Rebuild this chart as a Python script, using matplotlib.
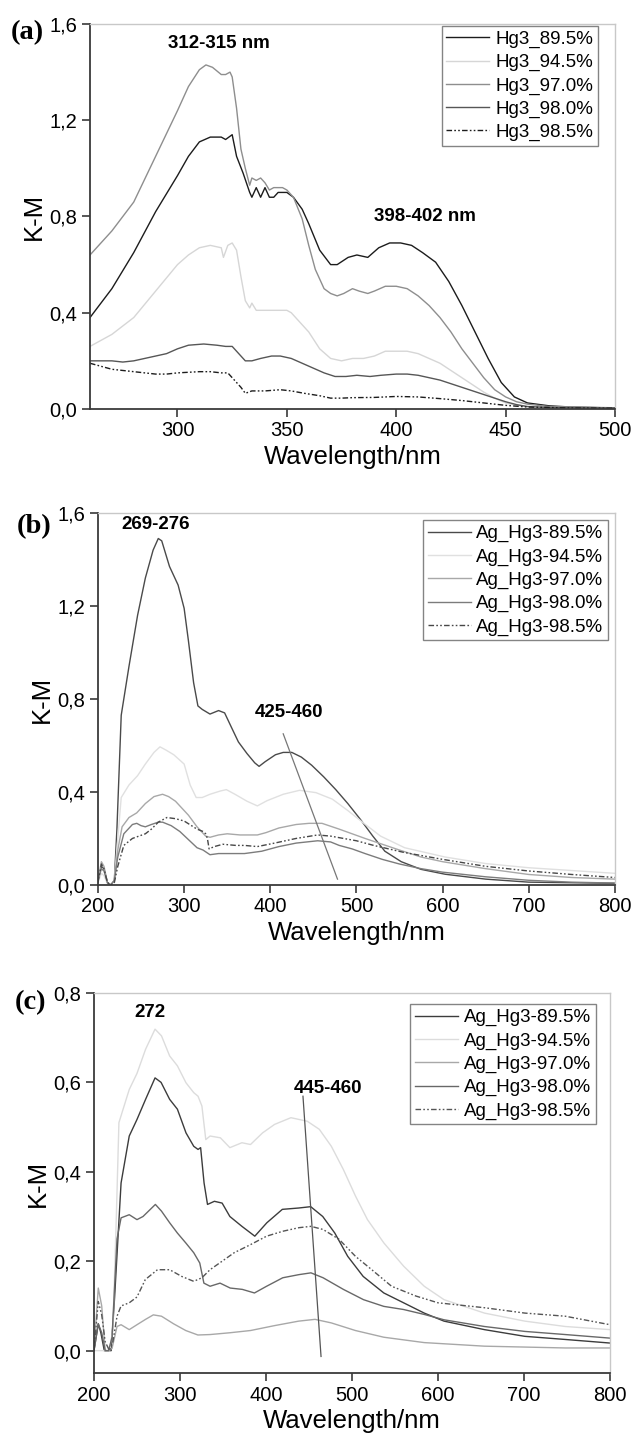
import matplotlib
matplotlib.use("Agg")
import matplotlib.pyplot as plt

plt.rcParams['font.family'] = ['Liberation Sans', 'DejaVu Sans']

# ---------------- panel (a) ----------------
a_labels = ['Hg3_89.5%', 'Hg3_94.5%', 'Hg3_97.0%', 'Hg3_98.0%', 'Hg3_98.5%']

a895_x = [260, 270, 280, 290, 300, 305, 310, 315, 320, 322, 325, 327, 330, 333, 334, 336, 338, 340, 342, 344,
          346, 350, 353, 357, 360, 365, 370, 373, 378, 382, 387, 392, 397, 402, 407, 412, 418, 424, 430, 436,
          442, 448, 454, 460, 470, 480, 500]
a895_y = [0.38, 0.50, 0.65, 0.82, 0.97, 1.05, 1.11, 1.13, 1.13, 1.12, 1.14, 1.05, 0.98, 0.90, 0.88, 0.92, 0.88,
          0.92, 0.88, 0.88, 0.90, 0.90, 0.88, 0.83, 0.77, 0.66, 0.60, 0.60, 0.63, 0.64, 0.63, 0.67, 0.69, 0.69,
          0.68, 0.65, 0.61, 0.53, 0.43, 0.32, 0.21, 0.11, 0.05, 0.025, 0.013, 0.008, 0.004]

a945_x = [260, 270, 280, 290, 300, 305, 310, 315, 320, 321, 323, 325, 327, 329, 331, 333, 334, 336, 340, 345,
          350, 352, 355, 360, 365, 370, 375, 380, 385, 390, 395, 400, 405, 410, 415, 420, 425, 430, 435, 440,
          445, 450, 455, 460, 480, 500]
a945_y = [0.26, 0.31, 0.38, 0.49, 0.60, 0.64, 0.67, 0.68, 0.67, 0.63, 0.68, 0.69, 0.66, 0.55, 0.45, 0.42, 0.44,
          0.41, 0.41, 0.41, 0.41, 0.40, 0.37, 0.32, 0.25, 0.21, 0.20, 0.21, 0.21, 0.22, 0.24, 0.24, 0.24, 0.23,
          0.21, 0.19, 0.16, 0.13, 0.10, 0.07, 0.045, 0.025, 0.015, 0.01, 0.006, 0.004]

a970_x = [260, 270, 280, 290, 300, 305, 310, 313, 316, 320, 322, 324, 325, 327, 329, 331, 333, 334, 336, 338,
          340, 342, 344, 348, 350, 353, 357, 360, 363, 367, 370, 373, 376, 380, 383, 387, 390, 395, 400, 405,
          410, 415, 420, 425, 430, 435, 440, 445, 450, 455, 460, 470, 500]
a970_y = [0.64, 0.74, 0.86, 1.05, 1.24, 1.34, 1.41, 1.43, 1.42, 1.39, 1.39, 1.40, 1.38, 1.25, 1.08, 1.00, 0.93,
          0.96, 0.95, 0.96, 0.94, 0.91, 0.92, 0.92, 0.91, 0.88, 0.79, 0.68, 0.58, 0.50, 0.48, 0.47, 0.48, 0.50,
          0.49, 0.48, 0.49, 0.51, 0.51, 0.50, 0.47, 0.43, 0.38, 0.32, 0.25, 0.19, 0.13, 0.08, 0.05, 0.03, 0.02,
          0.01, 0.005]

a980_x = [260, 270, 275, 280, 290, 295, 300, 305, 312, 318, 322, 325, 328, 331, 334, 338, 343, 347, 352, 357,
          362, 367, 372, 377, 382, 388, 393, 400, 405, 410, 415, 420, 425, 430, 435, 440, 445, 450, 455, 460,
          470, 500]
a980_y = [0.20, 0.20, 0.195, 0.20, 0.22, 0.23, 0.25, 0.265, 0.27, 0.265, 0.26, 0.26, 0.23, 0.20, 0.20, 0.21,
          0.22, 0.22, 0.21, 0.19, 0.17, 0.15, 0.135, 0.135, 0.14, 0.135, 0.14, 0.145, 0.145, 0.14, 0.13, 0.12,
          0.105, 0.09, 0.075, 0.06, 0.045, 0.03, 0.018, 0.01, 0.006, 0.004]

a985_x = [260, 270, 280, 290, 295, 300, 310, 315, 320, 323, 326, 329, 331, 334, 340, 347, 352, 358, 365, 370,
          375, 380, 390, 400, 410, 420, 430, 440, 450, 460, 480, 500]
a985_y = [0.19, 0.165, 0.155, 0.145, 0.145, 0.15, 0.155, 0.155, 0.15, 0.15, 0.12, 0.09, 0.065, 0.075, 0.075,
          0.08, 0.075, 0.065, 0.055, 0.045, 0.045, 0.047, 0.048, 0.052, 0.05, 0.043, 0.035, 0.025, 0.015, 0.008,
          0.004, 0.003]

# ---------------- panel (b) ----------------
b_labels = ['Ag_Hg3-89.5%', 'Ag_Hg3-94.5%', 'Ag_Hg3-97.0%', 'Ag_Hg3-98.0%', 'Ag_Hg3-98.5%']

b895_x = [200, 204, 207, 211, 215, 219, 222, 227, 236, 246, 255, 264, 270, 274, 283, 293, 300, 305, 311, 316,
          321, 330, 340, 347, 354, 363, 373, 382, 387, 394, 406, 415, 425, 436, 448, 462, 476, 490, 505, 519,
          533, 552, 575, 603, 650, 700, 800]
b895_y = [0.02, 0.08, 0.07, 0.01, 0.0, 0.02, 0.24, 0.73, 0.94, 1.16, 1.32, 1.44, 1.49, 1.48, 1.37, 1.29, 1.19,
          1.05, 0.87, 0.77, 0.755, 0.735, 0.75, 0.74, 0.685, 0.615, 0.565, 0.525, 0.51, 0.53, 0.56, 0.57, 0.57,
          0.55, 0.515, 0.465, 0.41, 0.35, 0.28, 0.21, 0.145, 0.10, 0.067, 0.046, 0.025, 0.012, 0.007]

b945_x = [200, 204, 207, 211, 215, 219, 223, 227, 236, 246, 255, 265, 272, 279, 288, 300, 307, 314, 321, 330,
          342, 349, 359, 373, 385, 396, 415, 434, 453, 472, 490, 509, 528, 556, 603, 650, 700, 750, 800]
b945_y = [0.01, 0.05, 0.04, 0.005, 0.0, 0.02, 0.2, 0.376, 0.43, 0.47, 0.52, 0.57, 0.594, 0.58, 0.56, 0.52,
          0.43, 0.376, 0.376, 0.39, 0.404, 0.41, 0.39, 0.36, 0.34, 0.362, 0.39, 0.407, 0.397, 0.369, 0.32, 0.264,
          0.21, 0.16, 0.12, 0.092, 0.074, 0.062, 0.05]

b970_x = [200, 204, 207, 211, 215, 219, 223, 228, 236, 245, 255, 265, 275, 282, 290, 300, 305, 315, 325, 330,
          340, 350, 365, 385, 395, 410, 430, 445, 460, 480, 495, 510, 530, 550, 575, 600, 650, 700, 750, 800]
b970_y = [0.02, 0.1, 0.08, 0.01, 0.0, 0.02, 0.15, 0.25, 0.29, 0.31, 0.35, 0.38, 0.39, 0.38, 0.36, 0.32, 0.30,
          0.25, 0.21, 0.205, 0.215, 0.22, 0.215, 0.215, 0.225, 0.245, 0.26, 0.265, 0.265, 0.24, 0.22, 0.2, 0.175,
          0.15, 0.12, 0.1, 0.07, 0.045, 0.032, 0.025]

b980_x = [200, 204, 207, 211, 215, 219, 223, 230, 240, 245, 250, 255, 262, 270, 275, 285, 295, 305, 315, 322,
          330, 340, 350, 370, 390, 410, 430, 455, 470, 480, 495, 510, 530, 550, 575, 600, 650, 700, 750, 800]
b980_y = [0.02, 0.07, 0.06, 0.01, 0.0, 0.02, 0.12, 0.22, 0.26, 0.265, 0.255, 0.25, 0.26, 0.27, 0.27, 0.255,
          0.23, 0.195, 0.16, 0.15, 0.13, 0.135, 0.135, 0.135, 0.145, 0.165, 0.18, 0.19, 0.185, 0.17, 0.155,
          0.135, 0.11, 0.09, 0.07, 0.055, 0.035, 0.02, 0.012, 0.008]

b985_x = [200, 204, 207, 211, 215, 219, 223, 230, 240, 255, 262, 270, 280, 290, 300, 315, 322, 325, 327, 329,
          335, 345, 360, 370, 385, 405, 430, 455, 470, 485, 500, 520, 555, 600, 650, 700, 750, 800]
b985_y = [0.01, 0.09, 0.07, 0.01, 0.0, 0.01, 0.08, 0.17, 0.20, 0.22, 0.24, 0.27, 0.29, 0.285, 0.275, 0.24,
          0.23, 0.22, 0.2, 0.155, 0.165, 0.175, 0.17, 0.17, 0.165, 0.18, 0.20, 0.215, 0.21, 0.2, 0.19, 0.17,
          0.14, 0.11, 0.08, 0.06, 0.045, 0.032]

# ---------------- panel (c) ----------------
c_labels = b_labels

c895_x = [200, 205, 208, 212, 216, 220, 224, 231.5, 241, 250, 260, 271, 278, 288, 297, 307, 316, 321, 324, 328,
          332, 340, 349, 358, 372, 387, 401, 419, 438, 452, 466, 480, 495, 513, 537, 560, 584, 607, 654, 701,
          748, 800]
c895_y = [0.0, 0.06, 0.04, 0.0, 0.0, 0.0, 0.12, 0.375, 0.48, 0.517, 0.562, 0.61, 0.60, 0.562, 0.54, 0.487,
          0.457, 0.45, 0.454, 0.375, 0.327, 0.334, 0.33, 0.30, 0.278, 0.256, 0.286, 0.316, 0.319, 0.322, 0.30,
          0.263, 0.211, 0.166, 0.129, 0.107, 0.084, 0.066, 0.047, 0.032, 0.025, 0.017]

c945_x = [200, 210, 218, 222, 226, 229, 241, 250, 260, 271, 278.5, 288, 297, 307, 316, 321, 325.5, 330, 335,
          347, 358, 372, 382, 396, 410, 429, 448, 462, 476, 490, 504, 518, 537, 560, 584, 607, 654, 701, 748, 800]
c945_y = [0.0, 0.0, 0.0, 0.05, 0.3, 0.51, 0.584, 0.62, 0.674, 0.719, 0.704, 0.659, 0.637, 0.599, 0.577, 0.569,
          0.547, 0.472, 0.48, 0.476, 0.454, 0.465, 0.461, 0.487, 0.506, 0.521, 0.513, 0.495, 0.457, 0.405, 0.346,
          0.293, 0.241, 0.189, 0.144, 0.114, 0.084, 0.066, 0.054, 0.047]

c970_x = [200, 205, 209, 213, 217, 221, 226.8, 231.5, 241, 250, 260, 269, 278.5, 292.6, 306.7, 320.8, 335, 358,
          382, 410, 438, 457, 476, 504, 537, 584, 654, 748, 800]
c970_y = [0.0, 0.14, 0.1, 0.0, 0.0, 0.005, 0.054, 0.058, 0.047, 0.058, 0.07, 0.08, 0.077, 0.06, 0.045, 0.035,
          0.036, 0.04, 0.045, 0.056, 0.066, 0.07, 0.062, 0.045, 0.03, 0.018, 0.01, 0.006, 0.006]

c980_x = [200, 205, 209, 213, 217, 221, 226.8, 231.5, 241, 250, 257, 271.4, 278.5, 288, 297, 306.7, 316, 323,
          327.8, 335, 346.6, 358.4, 372.5, 386.6, 400.7, 419.5, 438.3, 452.3, 466.4, 490, 513.4, 537, 560, 584,
          607, 654, 701, 748, 800]
c980_y = [0.0, 0.06, 0.04, 0.0, 0.0, 0.03, 0.25, 0.297, 0.304, 0.293, 0.30, 0.327, 0.312, 0.286, 0.263, 0.241,
          0.219, 0.196, 0.151, 0.144, 0.151, 0.14, 0.137, 0.129, 0.144, 0.163, 0.17, 0.174, 0.163, 0.137, 0.114,
          0.099, 0.092, 0.081, 0.069, 0.054, 0.043, 0.036, 0.028]

c985_x = [200, 205, 209, 213, 218, 222, 226.8, 231.5, 241, 250, 259.7, 273.8, 288, 302, 316, 325.5, 334.9, 349,
          363, 381.9, 400.7, 419.5, 438.3, 452.3, 466.4, 485, 504, 523, 546, 574.5, 600, 654, 701, 748, 800]
c985_y = [0.0, 0.11, 0.08, 0.02, 0.0, 0.02, 0.077, 0.10, 0.107, 0.12, 0.159, 0.181, 0.181, 0.166, 0.155, 0.163,
          0.181, 0.20, 0.219, 0.237, 0.256, 0.267, 0.275, 0.278, 0.271, 0.249, 0.211, 0.181, 0.144, 0.122, 0.107,
          0.096, 0.084, 0.077, 0.058]

a_yticks = [0.0, 0.4, 0.8, 1.2, 1.6]
b_yticks = [0.0, 0.4, 0.8, 1.2, 1.6]
c_yticks = [0.0, 0.2, 0.4, 0.6, 0.8]
a_xticks = [300, 350, 400, 450, 500]
bc_xticks = [200, 300, 400, 500, 600, 700, 800]

dashdot = (0, (4, 1.6, 1.2, 1.6, 1.2, 1.6))


def style_axes(ax, xlim, ylim, xticks, yticks):
    ax.set_xlim(*xlim)
    ax.set_ylim(*ylim)
    ax.set_xticks(xticks)
    ax.set_xticklabels([str(t) for t in xticks])
    ax.set_yticks(yticks)
    ax.set_yticklabels([('%.1f' % t).replace('.', ',') for t in yticks])
    for s in ['top', 'right']:
        ax.spines[s].set_color('#c8c8c8')
        ax.spines[s].set_linewidth(1.0)
    for s in ['left', 'bottom']:
        ax.spines[s].set_color('#3a3a3a')
        ax.spines[s].set_linewidth(1.3)
    ax.tick_params(direction='out', length=6, width=1.2, color='#3a3a3a',
                   labelsize=14.5, top=False, right=False, pad=3)
    ax.set_xlabel('Wavelength/nm', fontsize=18.5, labelpad=3)
    ax.set_ylabel('K-M', fontsize=18.5, labelpad=3)


def add_legend(ax, loc_anchor):
    leg = ax.legend(loc='upper right', bbox_to_anchor=loc_anchor, fontsize=13.5, frameon=True, fancybox=False,
                    handlelength=2.3, handletextpad=0.3, borderpad=0.25, labelspacing=0.32, borderaxespad=0)
    leg.get_frame().set_edgecolor('#666666')
    leg.get_frame().set_linewidth(1.0)


fig = plt.figure(figsize=(6.32, 14.38), dpi=100)
serif = ['Liberation Serif', 'DejaVu Serif']

# (a)
ax = fig.add_axes([0.1424, 0.7156, 0.8307, 0.2677])
cols = ['#1c1c1c', '#d6d6d6', '#8e8e8e', '#565656', '#1c1c1c']
ax.plot(a895_x, a895_y, color=cols[0], lw=1.0, label=a_labels[0])
ax.plot(a945_x, a945_y, color=cols[1], lw=1.0, label=a_labels[1])
ax.plot(a970_x, a970_y, color=cols[2], lw=1.0, label=a_labels[2])
ax.plot(a980_x, a980_y, color=cols[3], lw=1.0, label=a_labels[3])
ax.plot(a985_x, a985_y, color=cols[4], lw=1.0, linestyle=dashdot, label=a_labels[4])
style_axes(ax, (260, 500), (0, 1.6), a_xticks, a_yticks)
add_legend(ax, (0.967, 0.995))
ax.text(319, 1.52, '312-315 nm', fontsize=13.5, fontweight='bold', ha='center', va='center')
ax.text(413, 0.80, '398-402 nm', fontsize=13.5, fontweight='bold', ha='center', va='center')
fig.text(0.044, 0.9775, '(a)', family=serif, fontsize=20.5, fontweight='bold', ha='center', va='center')

# (b)
ax = fig.add_axes([0.155, 0.3846, 0.818, 0.2587])
cols = ['#4a4a4a', '#e0e0e0', '#a8a8a8', '#7c7c7c', '#474747']
ax.plot(b895_x, b895_y, color=cols[0], lw=1.0, label=b_labels[0])
ax.plot(b945_x, b945_y, color=cols[1], lw=1.0, label=b_labels[1])
ax.plot(b970_x, b970_y, color=cols[2], lw=1.0, label=b_labels[2])
ax.plot(b980_x, b980_y, color=cols[3], lw=1.0, label=b_labels[3])
ax.plot(b985_x, b985_y, color=cols[4], lw=1.0, linestyle=dashdot, label=b_labels[4])
style_axes(ax, (200, 800), (0, 1.6), bc_xticks, b_yticks)
add_legend(ax, (0.987, 0.98))
ax.plot([415, 478], [0.65, 0.025], color='#777777', lw=0.9)
ax.text(267, 1.55, '269-276', fontsize=13.5, fontweight='bold', ha='center', va='center')
ax.text(422, 0.74, '425-460', fontsize=13.5, fontweight='bold', ha='center', va='center')
fig.text(0.054, 0.634, '(b)', family=serif, fontsize=20.5, fontweight='bold', ha='center', va='center')

# (c)
ax = fig.add_axes([0.1487, 0.0452, 0.8165, 0.2643])
cols = ['#3c3c3c', '#dcdcdc', '#a8a8a8', '#686868', '#555555']
ax.plot(c895_x, c895_y, color=cols[0], lw=1.0, label=c_labels[0])
ax.plot(c945_x, c945_y, color=cols[1], lw=1.0, label=c_labels[1])
ax.plot(c970_x, c970_y, color=cols[2], lw=1.0, label=c_labels[2])
ax.plot(c980_x, c980_y, color=cols[3], lw=1.0, label=c_labels[3])
ax.plot(c985_x, c985_y, color=cols[4], lw=1.0, linestyle=dashdot, label=c_labels[4])
style_axes(ax, (200, 800), (-0.05, 0.8), bc_xticks, c_yticks)
add_legend(ax, (0.972, 0.97))
ax.plot([443, 464], [0.569, -0.013], color='#555555', lw=0.9)
ax.text(265, 0.756, '272', fontsize=13.5, fontweight='bold', ha='center', va='center')
ax.text(472, 0.586, '445-460', fontsize=13.5, fontweight='bold', ha='center', va='center')
fig.text(0.048, 0.3025, '(c)', family=serif, fontsize=20.5, fontweight='bold', ha='center', va='center')

fig.savefig('out.png', dpi=100)
